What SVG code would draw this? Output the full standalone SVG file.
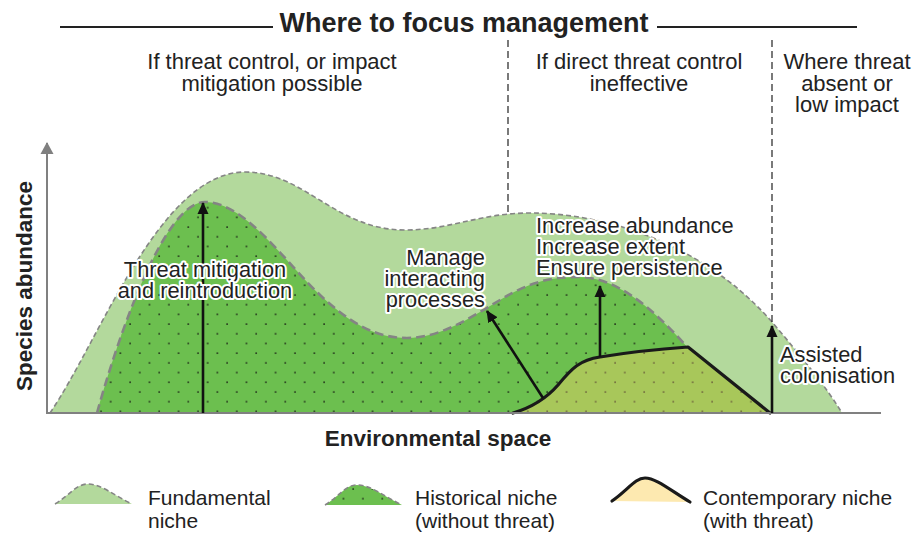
<svg xmlns="http://www.w3.org/2000/svg" width="920" height="533" viewBox="0 0 920 533">
  <style>
    .t { font-family: "Liberation Sans", Arial, sans-serif; fill: #222; }
    .sub { font-size: 22px; text-anchor: middle; }
    .lab { font-size: 21.8px; stroke: #fff; stroke-width: 4px; stroke-linejoin: round; paint-order: stroke; }
    .bold { font-weight: bold; font-size: 22.5px; }
    .leg { font-size: 21px; }
    .fund { fill: #b3d99c; }
    .hist { fill: #6cbf4f; }
    .cont { fill: #a8c75a; }
    .fund-edge { fill: none; stroke: #858585; stroke-width: 1.6; stroke-dasharray: 5 3; }
    .hist-edge { fill: none; stroke: #848484; stroke-width: 2.6; stroke-dasharray: 9 5; }
    .cont-edge { fill: none; stroke: #1a1a1a; stroke-width: 3.2; stroke-linejoin: round; stroke-linecap: round; }
    .sep { stroke: #222; stroke-width: 1.2; stroke-dasharray: 7 4; }
    .arrow { stroke: #111; stroke-width: 2.6; fill: none; marker-end: url(#head); }
  </style>
  <defs>
    <pattern id="dots" width="19.4" height="19.4" patternUnits="userSpaceOnUse">
      <circle cx="4" cy="4" r="0.95" fill="#1e2a18"/>
      <circle cx="13.7" cy="13.7" r="0.95" fill="#1e2a18"/>
    </pattern>
    <pattern id="dots-olive" width="19.4" height="19.4" patternUnits="userSpaceOnUse">
      <circle cx="4" cy="4" r="0.95" fill="#6a5f3a"/>
      <circle cx="13.7" cy="13.7" r="0.95" fill="#6a5f3a"/>
    </pattern>
    <marker id="head" viewBox="0 0 12 12" refX="11" refY="6" markerWidth="12" markerHeight="12" markerUnits="userSpaceOnUse" orient="auto">
      <path d="M0,0.5 L12,6 L0,11.5 Z" fill="#111"/>
    </marker>
    <marker id="axis-head" viewBox="0 0 12 14" refX="11" refY="7" markerWidth="12" markerHeight="14" markerUnits="userSpaceOnUse" orient="auto">
      <path d="M0,0.5 L12,7 L0,13.5 Z" fill="#808080"/>
    </marker>
  </defs>

  <!-- heading -->
  <g id="heading">
    <line x1="60" y1="27" x2="273" y2="27" stroke="#222" stroke-width="2"/>
    <line x1="657" y1="27" x2="857" y2="27" stroke="#222" stroke-width="2"/>
    <text class="t" x="464" y="32" text-anchor="middle" font-weight="bold" font-size="27">Where to focus management</text>
  </g>

  <!-- management zones -->
  <g id="zone-mitigation">
    <text class="t sub" x="272" y="69">If threat control, or impact</text>
    <text class="t sub" x="272" y="91">mitigation possible</text>
  </g>
  <g id="zone-ineffective">
    <text class="t sub" x="639" y="69">If direct threat control</text>
    <text class="t sub" x="639" y="91">ineffective</text>
  </g>
  <g id="zone-absent">
    <text class="t sub" x="847" y="69">Where threat</text>
    <text class="t sub" x="847" y="91">absent or</text>
    <text class="t sub" x="847" y="112">low impact</text>
  </g>

  <!-- fundamental niche -->
  <g id="fundamental-niche">
    <path class="fund" d="M50,413 C100,340 160,172 245,172 C305,172 335,230 405,230 C450,230 480,213 530,213 C600,213 700,240 772,322 C800,355 825,385 842,413 Z"/>
    <path class="fund-edge" d="M50,413 C100,340 160,172 245,172 C305,172 335,230 405,230 C450,230 480,213 530,213 C600,213 700,240 772,322 C800,355 825,385 842,413"/>
  </g>

  <!-- historical niche -->
  <g id="historical-niche">
    <path class="hist" d="M97,413 C120,330 165,202 205,202 C245,202 285,262 320,295 C350,323 375,338 407,338 C440,338 470,318 500,300 C530,282 550,277 578,277 C615,277 650,305 688,348 L765,413 Z"/>
    <path fill="url(#dots)" d="M97,413 C120,330 165,202 205,202 C245,202 285,262 320,295 C350,323 375,338 407,338 C440,338 470,318 500,300 C530,282 550,277 578,277 C615,277 650,305 688,348 L765,413 Z"/>
    <path class="hist-edge" d="M97,413 C120,330 165,202 205,202 C245,202 285,262 320,295 C350,323 375,338 407,338 C440,338 470,318 500,300 C530,282 550,277 578,277 C615,277 650,305 688,348"/>
  </g>

  <!-- contemporary niche -->
  <g id="contemporary-niche">
    <path class="cont" d="M513,413 C530,408 545,400 558,385 C572,368 580,360 600,357 C630,352 660,349 688,347 L770,413 Z"/>
    <path fill="url(#dots-olive)" d="M513,413 C530,408 545,400 558,385 C572,368 580,360 600,357 C630,352 660,349 688,347 L770,413 Z"/>
    <path class="cont-edge" d="M513,413 C530,408 545,400 558,385 C572,368 580,360 600,357 C630,352 660,349 688,347 L770,413"/>
  </g>

  <!-- axes -->
  <g id="axes">
    <line x1="47" y1="414" x2="47" y2="143" stroke="#808080" stroke-width="2" marker-end="url(#axis-head)"/>
    <line x1="46" y1="413" x2="881" y2="413" stroke="#808080" stroke-width="2"/>
    <text class="t bold" x="438" y="446" text-anchor="middle">Environmental space</text>
    <text class="t bold" transform="translate(32,286) rotate(-90)" text-anchor="middle">Species abundance</text>
  </g>

  <!-- zone separators -->
  <g id="separators">
    <line class="sep" x1="508" y1="40" x2="508" y2="212"/>
    <line class="sep" x1="772" y1="40" x2="772" y2="322"/>
  </g>

  <!-- management actions -->
  <g id="connectors">
    <line class="arrow" x1="203" y1="413" x2="203" y2="203"/>
    <line class="arrow" x1="543" y1="398" x2="487" y2="311"/>
    <line class="arrow" x1="600" y1="357" x2="600" y2="286"/>
    <line class="arrow" x1="772" y1="413" x2="772" y2="326"/>
  </g>

  <g id="label-reintroduction">
    <text class="t lab" x="205" y="277" text-anchor="middle">Threat mitigation</text>
    <text class="t lab" x="205" y="298" text-anchor="middle">and reintroduction</text>
  </g>
  <g id="label-interacting">
    <text class="t lab" x="485" y="265" text-anchor="end">Manage</text>
    <text class="t lab" x="485" y="286" text-anchor="end">interacting</text>
    <text class="t lab" x="485" y="307" text-anchor="end">processes</text>
  </g>
  <g id="label-increase">
    <text class="t lab" x="536" y="233">Increase abundance</text>
    <text class="t lab" x="536" y="254">Increase extent</text>
    <text class="t lab" x="536" y="275">Ensure persistence</text>
  </g>
  <g id="label-colonisation">
    <text class="t lab" x="780" y="362">Assisted</text>
    <text class="t lab" x="780" y="383">colonisation</text>
  </g>

  <!-- legend -->
  <g id="legend-fundamental">
    <path class="fund" d="M55,504 C70,495 76,484 88,484 C101,484 115,496 132,504 Z"/>
    <path class="fund-edge" d="M55,504 C70,495 76,484 88,484 C101,484 115,496 132,504"/>
    <text class="t leg" x="148" y="505">Fundamental</text>
    <text class="t leg" x="148" y="528">niche</text>
  </g>
  <g id="legend-historical">
    <path class="hist" d="M325,505 C340,496 345,485 357,485 C371,485 385,497 402,505 Z"/>
    <path fill="url(#dots)" d="M325,505 C340,496 345,485 357,485 C371,485 385,497 402,505 Z"/>
    <path class="fund-edge" stroke-width="2" d="M325,505 C340,496 345,485 357,485 C371,485 385,497 402,505"/>
    <text class="t leg" x="415" y="505">Historical niche</text>
    <text class="t leg" x="415" y="528">(without threat)</text>
  </g>
  <g id="legend-contemporary">
    <path fill="#fde9b0" d="M612,501 C628,490 635,478 645,478 C656,478 670,490 690,502 Z"/>
    <path class="cont-edge" stroke-width="3" d="M612,501 C628,490 635,478 645,478 C656,478 670,490 690,502"/>
    <text class="t leg" x="703" y="505">Contemporary niche</text>
    <text class="t leg" x="703" y="528">(with threat)</text>
  </g>
</svg>
